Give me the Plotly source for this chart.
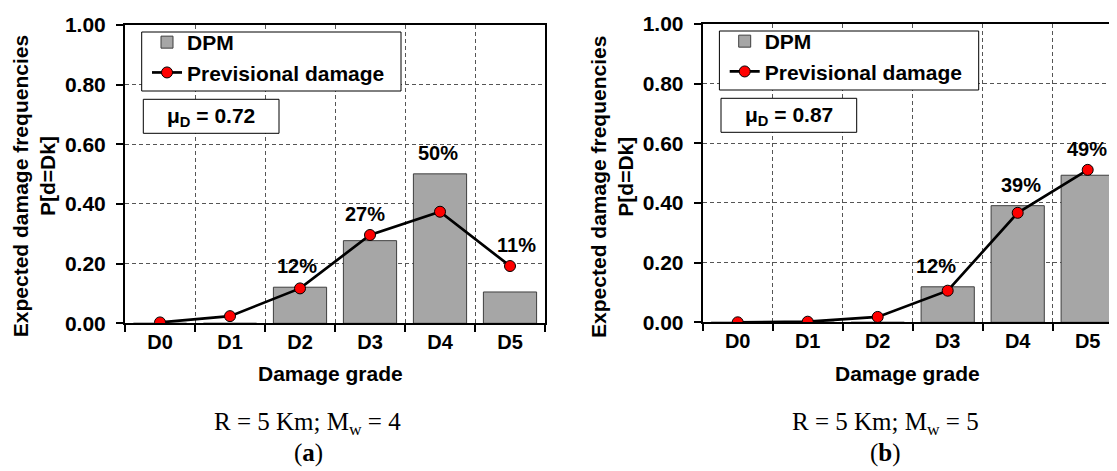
import plotly.graph_objects as go

# ---------------- data ----------------
grades = ["D0", "D1", "D2", "D3", "D4", "D5"]

dpm_a = [0.0, 0.0, 0.121, 0.277, 0.501, 0.105]
prev_a = [0.003, 0.024, 0.117, 0.296, 0.374, 0.192]
pct_a = ["", "", "12%", "27%", "50%", "11%"]
mu_a = "0.72"
caption_a = ("R = 5 Km; M<sub>w</sub> = 4", "a")

dpm_b = [0.0, 0.0, 0.0, 0.119, 0.391, 0.493]
prev_b = [0.0, 0.002, 0.018, 0.106, 0.367, 0.511]
pct_b = ["", "", "", "12%", "39%", "49%"]
mu_b = "0.87"
caption_b = ("R = 5 Km; M<sub>w</sub> = 5", "b")

yticks = [0.0, 0.2, 0.4, 0.6, 0.8, 1.0]

# ---------------- layout helpers ----------------
W, H = 1117, 471
OFF = 8  # page body margin of the browser
SANS = "Liberation Sans"
SERIF = "Liberation Serif"


def px(v):
    return (v - OFF) / W


def py(v):
    return 1 - (v - OFF) / H


BAR_FILL = "#a6a6a6"
BAR_LINE = "#3f3f3f"
GRID = "#555555"
CAT_W = 70.0  # pixels per category

fig = go.Figure()

panels = [
    dict(dpm=dpm_a, prev=prev_a, pct=pct_a, mu=mu_a, cap=caption_a,
         xa="x", ya="y", leg="legend", dx=0.0, dy=0.0,
         xoff=[0, 0, -3, -5, -2, 6]),
    dict(dpm=dpm_b, prev=prev_b, pct=pct_b, mu=mu_b, cap=caption_b,
         xa="x2", ya="y2", leg="legend2", dx=577.7, dy=-1.0,
         xoff=[0, 0, 0, -12, 3, -1]),
]

annotations = []
shapes = []
for p in panels:
    fig.add_trace(go.Bar(
        x=grades, y=p["dpm"], name="DPM", width=0.76,
        marker=dict(color=BAR_FILL, line=dict(color=BAR_LINE, width=1)),
        xaxis=p["xa"], yaxis=p["ya"], legend=p["leg"],
    ))
    fig.add_trace(go.Scatter(
        x=grades, y=p["prev"], name="Previsional damage", mode="lines+markers",
        line=dict(color="black", width=2.7),
        marker=dict(color="#ff0000", size=11, line=dict(color="black", width=1)),
        xaxis=p["xa"], yaxis=p["ya"], legend=p["leg"],
    ))
    # percentage labels
    for i, t in enumerate(p["pct"]):
        if not t:
            continue
        annotations.append(dict(
            x=grades[i], y=max(p["dpm"][i], p["prev"][i]),
            xref=p["xa"], yref=p["ya"], text=t, showarrow=False,
            yanchor="bottom", yshift=8, xshift=p["xoff"][i],
            font=dict(family=SANS, size=20, color="black", weight="bold"),
        ))
    dx, dy = p["dx"], p["dy"]
    # legend frame
    shapes.append(dict(type="rect", xref="paper", yref="paper",
                       x0=px(141.7 + dx), x1=px(401 + dx),
                       y0=py(91 + dy), y1=py(32 + dy),
                       line=dict(color="black", width=1), fillcolor="white", layer="above"))
    # mu_D box
    shapes.append(dict(type="rect", xref="paper", yref="paper",
                       x0=px(143.3 + dx), x1=px(279 + dx),
                       y0=py(133.3 + dy), y1=py(99.3 + dy),
                       line=dict(color="black", width=1), fillcolor="white", layer="above"))
    annotations.append(dict(
        x=px(211 + dx), y=py(117 + dy), xref="paper", yref="paper",
        text="μ<sub>D</sub> = " + p["mu"], showarrow=False,
        xanchor="center", yanchor="middle",
        font=dict(family=SANS, size=21, color="black", weight="bold"),
    ))
    # y-axis title (two lines)
    annotations.append(dict(
        x=px(20.7 + dx), y=py(186.5), xref="paper", yref="paper",
        text="Expected damage frequencies", textangle=-90, showarrow=False,
        xanchor="center", yanchor="middle",
        font=dict(family=SANS, size=21, color="black", weight="bold"),
    ))
    annotations.append(dict(
        x=px(47.5 + dx), y=py(176.5), xref="paper", yref="paper",
        text="P[d=Dk]", textangle=-90, showarrow=False,
        xanchor="center", yanchor="middle",
        font=dict(family=SANS, size=21, color="black", weight="bold"),
    ))
    # x-axis title
    annotations.append(dict(
        x=px(330 + dx), y=py(373), xref="paper", yref="paper",
        text="Damage grade", showarrow=False, xanchor="center", yanchor="middle",
        font=dict(family=SANS, size=21, color="black", weight="bold"),
    ))
    # captions
    annotations.append(dict(
        x=px(307.5 + dx), y=py(423), xref="paper", yref="paper",
        text=p["cap"][0], showarrow=False, xanchor="center", yanchor="middle",
        font=dict(family=SERIF, size=25, color="black"),
    ))
    annotations.append(dict(
        x=px(308 + dx), y=py(453), xref="paper", yref="paper",
        text="(<b>" + p["cap"][1] + "</b>)", showarrow=False,
        xanchor="center", yanchor="middle",
        font=dict(family=SERIF, size=25, color="black"),
    ))

tickfont_x = dict(family=SANS, size=20, color="black", weight="bold")
tickfont_y = dict(family=SANS, size=21, color="black", weight="bold")

xcommon = dict(type="category", tickson="boundaries", ticks="outside", ticklen=7,
               tickwidth=1.5, tickcolor="black", showline=True, linewidth=2,
               linecolor="black", mirror=True, showgrid=True, gridcolor=GRID,
               gridwidth=1, griddash="4px,3px", tickfont=tickfont_x,
               categoryorder="array", categoryarray=grades, fixedrange=True,
               automargin=False)
ycommon = dict(range=[0, 1], tickvals=yticks, tickformat=".2f", ticks="outside",
               ticklen=7, tickwidth=1.5, tickcolor="black", showline=True,
               linewidth=2, linecolor="black", showgrid=True, gridcolor=GRID,
               gridwidth=1, griddash="4px,3px", zeroline=False, tickfont=tickfont_y,
               ticklabelstandoff=6, fixedrange=True, automargin=False)

legcommon = dict(xanchor="left", yanchor="top", bgcolor="rgba(0,0,0,0)",
                 borderwidth=0, font=dict(family=SANS, size=21, color="black", weight="bold"),
                 itemwidth=30, tracegroupgap=0)

# right panel is cut by the picture edge: extend its range to the figure edge
x2_left = 702.7
x2_end = -0.5 + (W + OFF - x2_left) / CAT_W

fig.update_layout(
    template="none",
    width=W, height=H, margin=dict(l=0, r=0, t=0, b=0, autoexpand=False),
    paper_bgcolor="white", plot_bgcolor="white", bargap=0.24,
    xaxis=dict(domain=[px(125), px(545)], range=[-0.5, 5.5], anchor="y", **xcommon),
    yaxis=dict(domain=[py(323.3), py(25)], anchor="x", mirror=True, **ycommon),
    xaxis2=dict(domain=[px(x2_left), 1.0], range=[-0.5, x2_end], anchor="y2", **xcommon),
    yaxis2=dict(domain=[py(322.3), py(24)], anchor="x2", mirror=False, **ycommon),
    legend=dict(x=px(147), y=py(22), **legcommon),
    legend2=dict(x=px(147 + 577.7), y=py(21), **legcommon),
    annotations=annotations, shapes=shapes, showlegend=True,
)

fig.write_html("out.html")
